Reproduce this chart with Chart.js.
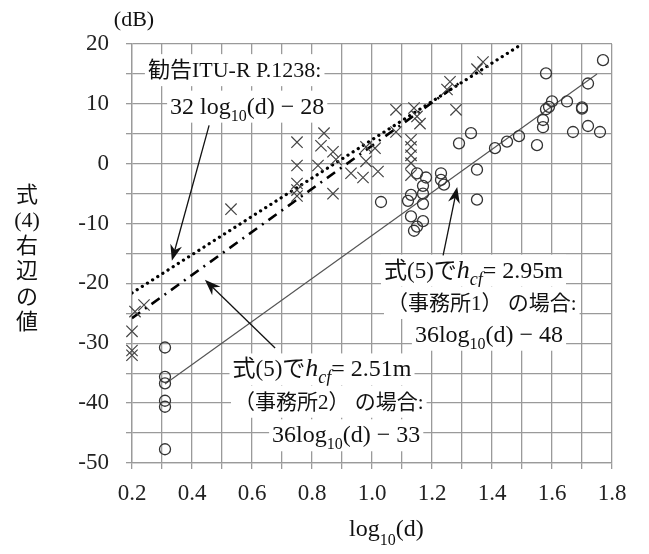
<!DOCTYPE html>
<html>
<head>
<meta charset="utf-8">
<script src="https://cdn.jsdelivr.net/npm/chart.js@4"></script>
<style>
  html, body { margin: 0; padding: 0; background: #fff; }
  canvas { display: block; }
</style>
</head>
<body>
<canvas id="myChart" width="649" height="554"></canvas>
<script>
    // measured points (x marks)
    var crossX = [0.20, 0.20, 0.20, 0.21, 0.24, 0.53,
                  0.75, 0.75, 0.75, 0.75, 0.75,
                  0.84, 0.83, 0.82, 0.87, 0.88, 0.87, 0.93, 0.97, 0.98, 0.98,
                  1.01, 1.02, 1.08, 1.14, 1.15, 1.16, 1.08, 1.13, 1.13, 1.13, 1.13, 1.13,
                  1.26, 1.25, 1.28, 1.37, 1.35];
    var crossY = [-28.0, -31.2, -32.0, -24.7, -23.6, -7.6,
                  3.6, -0.3, -3.3, -4.4, -5.4,
                  5.1, 3.0, -0.3, 2.0, 0.7, -5.0, -1.6, -2.3, 0.4, 2.8,
                  2.6, -1.3, 9.0, 9.3, 7.9, 6.7, 5.3, 4.0, 2.8, 1.4, 0.1, -1.9,
                  13.7, 12.4, 9.0, 17.0, 15.8];

    // measured points (o marks)
    var circX = [0.31, 0.31, 0.31, 0.31, 0.31, 0.31,
                 1.03, 1.12, 1.13, 1.17, 1.17, 1.15, 1.18, 1.17, 1.13, 1.17, 1.15, 1.14,
                 1.23, 1.23, 1.24, 1.29, 1.33, 1.35, 1.35, 1.41, 1.45, 1.49, 1.55,
                 1.57, 1.57, 1.58, 1.59, 1.58, 1.60, 1.65, 1.67, 1.70, 1.70, 1.72, 1.72, 1.76, 1.77];
    var circY = [-30.7, -35.6, -36.7, -39.6, -40.6, -47.7,
                 -6.4, -6.2, -5.2, -5.0, -3.7, -1.6, -2.3, -6.7, -8.8, -9.6, -10.5, -11.2,
                 -1.6, -2.7, -3.5, 3.4, 5.1, -1.0, -6.0, 2.6, 3.7, 4.6, 3.1,
                 7.3, 6.1, 9.1, 9.5, 15.1, 10.4, 10.4, 5.3, 9.4, 9.2, 6.3, 13.4, 5.3, 17.3];

    // fitted lines, end points
    var ituX = [0.2, 1.5], ituY = [-21.6, 20.0];           // 32log10(d)-28
    var off2X = [0.2, 1.3], off2Y = [-25.8, 13.8];         // 36log10(d)-33
    var off1X = [0.31, 1.75], off1Y = [-36.8, 15.0];       // 36log10(d)-48

    function pts(xs, ys) {
        return xs.map(function (x, i) { return {x: x, y: ys[i]}; });
    }

    var SERIF = '"Liberation Serif", "Noto Sans CJK JP", serif';
    var INK = '#111';

    // draw one line of text with italic / subscript pieces, white box behind
    function drawRich(ctx, segs, left, cy) {
        var w = 0;
        segs.forEach(function (s) {
            ctx.font = (s.it ? 'italic ' : '') + s.size + 'px ' + SERIF;
            s.w = ctx.measureText(s.t).width;
            w += s.w;
        });
        ctx.fillStyle = '#fff';
        ctx.fillRect(left - 3, cy - 15, w + 6, 32);
        var x = left;
        ctx.fillStyle = INK;
        ctx.textBaseline = 'alphabetic';
        ctx.textAlign = 'left';
        segs.forEach(function (s) {
            ctx.font = (s.it ? 'italic ' : '') + s.size + 'px ' + SERIF;
            ctx.fillText(s.t, x, cy + 8 + (s.sub ? 7 : 0));
            x += s.w;
        });
    }

    function arrow(ctx, x1, y1, x2, y2) {
        var a = Math.atan2(y2 - y1, x2 - x1);
        ctx.strokeStyle = INK;
        ctx.lineWidth = 1.3;
        ctx.beginPath();
        ctx.moveTo(x1, y1);
        ctx.lineTo(x2 - 10 * Math.cos(a), y2 - 10 * Math.sin(a));
        ctx.stroke();
        ctx.fillStyle = INK;
        ctx.beginPath();
        ctx.moveTo(x2, y2);
        ctx.lineTo(x2 - 16 * Math.cos(a) + 6 * Math.sin(a), y2 - 16 * Math.sin(a) - 6 * Math.cos(a));
        ctx.lineTo(x2 - 11 * Math.cos(a), y2 - 11 * Math.sin(a));
        ctx.lineTo(x2 - 16 * Math.cos(a) - 6 * Math.sin(a), y2 - 16 * Math.sin(a) + 6 * Math.cos(a));
        ctx.closePath();
        ctx.fill();
    }

    var notes = {
        id: 'notes',
        afterDraw: function (chart) {
            var ctx = chart.ctx, sx = chart.scales.x, sy = chart.scales.y;
            function P(x, y) { return [sx.getPixelForValue(x), sy.getPixelForValue(y)]; }
            var T = 23, J = 21, S = 16, H = 26;
            ctx.save();

            // ITU-R note
            var p = P(0.253, 15.8);
            drawRich(ctx, [{t: '勧告ITU-R P.1238:', size: 22}], p[0], p[1]);
            p = P(0.327, 9.7);
            drawRich(ctx, [{t: '32 log', size: 24}, {t: '10', size: S, sub: true}, {t: '(d) − 28', size: 24}], p[0], p[1]);
            var a = P(0.457, 6.4), b = P(0.333, -16.2);
            arrow(ctx, a[0], a[1], b[0], b[1]);

            // office 1 note
            p = P(1.04, -17.7);
            drawRich(ctx, [{t: '式(5)で', size: T}, {t: 'h', size: H, it: true}, {t: 'cf', size: S + 2, it: true, sub: true}, {t: '= 2.95m', size: 24}], p[0], p[1]);
            p = P(1.05, -23.1);
            drawRich(ctx, [{t: '（事務所1） の場合:', size: J}], p[0], p[1]);
            p = P(1.143, -28.4);
            drawRich(ctx, [{t: '36log', size: 24}, {t: '10', size: S, sub: true}, {t: '(d) − 48', size: 24}], p[0], p[1]);
            a = P(1.237, -15.3); b = P(1.284, -3.9);
            arrow(ctx, a[0], a[1], b[0], b[1]);

            // office 2 note
            p = P(0.535, -34.2);
            drawRich(ctx, [{t: '式(5)で', size: T}, {t: 'h', size: H, it: true}, {t: 'cf', size: S + 2, it: true, sub: true}, {t: '= 2.51m', size: 24}], p[0], p[1]);
            p = P(0.54, -39.6);
            drawRich(ctx, [{t: '（事務所2） の場合:', size: J}], p[0], p[1]);
            p = P(0.667, -45.2);
            drawRich(ctx, [{t: '36log', size: 24}, {t: '10', size: S, sub: true}, {t: '(d) − 33', size: 24}], p[0], p[1]);
            a = P(0.677, -30.8); b = P(0.443, -19.4);
            arrow(ctx, a[0], a[1], b[0], b[1]);

            // axis titles
            ctx.fillStyle = INK;
            ctx.textAlign = 'center';
            ctx.textBaseline = 'middle';
            ctx.font = '22px ' + SERIF;
            ctx.fillText('(dB)', 134, 20);
            ['式', '(4)', '右', '辺', 'の', '値'].forEach(function (c, i) {
                ctx.fillText(c, 27, 196 + i * 25.5);
            });
            ctx.textAlign = 'left';
            ctx.textBaseline = 'alphabetic';
            ctx.font = '24px ' + SERIF;
            var lw = ctx.measureText('log').width;
            ctx.fillText('log', 349, 536);
            ctx.font = '16px ' + SERIF;
            var sw = ctx.measureText('10').width;
            ctx.fillText('10', 349 + lw, 545);
            ctx.font = '24px ' + SERIF;
            ctx.fillText('(d)', 349 + lw + sw, 536);
            ctx.restore();
        }
    };

    const ctx = document.getElementById('myChart').getContext('2d');
    const myChart = new Chart(ctx, {
        type: 'scatter',
        data: {
            datasets: [{
                    data: pts(crossX, crossY),
                    pointStyle: 'crossRot',
                    pointRadius: 8,
                    borderColor: '#444',
                    borderWidth: 1.2,
                    clip: false
                }, {
                    data: pts(circX, circY),
                    pointStyle: 'circle',
                    pointRadius: 5.5,
                    borderColor: '#333',
                    backgroundColor: 'rgba(0,0,0,0)',
                    borderWidth: 1.3,
                    clip: false
                }, {
                    data: pts(ituX, ituY),
                    showLine: true,
                    pointRadius: 0,
                    borderColor: '#000',
                    borderWidth: 3.2,
                    borderDash: [0.1, 6],
                    borderCapStyle: 'round'
                }, {
                    data: pts(off2X, off2Y),
                    showLine: true,
                    pointRadius: 0,
                    borderColor: '#000',
                    borderWidth: 2.6,
                    borderDash: [10, 6, 2, 6]
                }, {
                    data: pts(off1X, off1Y),
                    showLine: true,
                    pointRadius: 0,
                    borderColor: '#555',
                    borderWidth: 1.2
                }]
        },
        options: {
            responsive: false,
            animation: false,
            devicePixelRatio: 1,
            layout: {padding: {left: 0, top: 44, right: 37, bottom: 0}},
            plugins: {legend: {display: false}, tooltip: {enabled: false}},
            scales: {
                x: {
                    type: 'linear',
                    min: 0.2,
                    max: 1.8,
                    afterFit: function (s) { s.height = 91; },
                    grid: {color: '#9a9a9a', lineWidth: 1.3, tickLength: 6},
                    border: {color: '#9a9a9a', width: 1.3},
                    ticks: {
                        stepSize: 0.1,
                        autoSkip: false,
                        maxRotation: 0,
                        padding: 11,
                        color: '#222',
                        font: {family: SERIF, size: 23},
                        callback: function (v) { return Math.round(v * 10) % 2 === 0 ? v.toFixed(1) : ''; }
                    }
                },
                y: {
                    min: -50,
                    max: 20,
                    afterFit: function (s) { s.width = 132; },
                    grid: {color: '#9a9a9a', lineWidth: 1.3, tickLength: 6},
                    border: {color: '#9a9a9a', width: 1.3},
                    ticks: {
                        stepSize: 5,
                        autoSkip: false,
                        padding: 17,
                        color: '#222',
                        font: {family: SERIF, size: 23},
                        callback: function (v) { return v % 10 === 0 ? String(v) : ''; }
                    }
                }
            }
        },
        plugins: [notes]
    });
</script>
</body>
</html>
